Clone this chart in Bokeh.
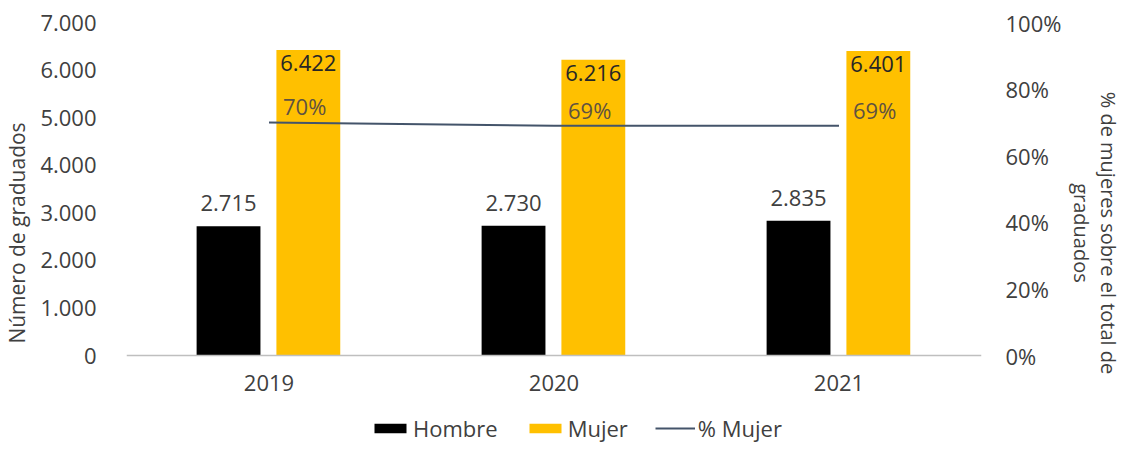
from bokeh.plotting import figure
from bokeh.models import (FactorRange, Range1d, LinearAxis, FixedTicker, Legend,
                          LegendItem, ColumnDataSource, Span)
from bokeh.transform import dodge
from bokeh.embed import file_html
from bokeh.resources import INLINE
from bokeh.core.properties import value

years = ["2019", "2020", "2021"]
hombre = [2715, 2730, 2835]
mujer = [6422, 6216, 6401]
hombre_labels = ["2.715", "2.730", "2.835"]
mujer_labels = ["6.422", "6.216", "6.401"]
pct_mujer = [0.70, 0.69, 0.69]
pct_labels = ["70%", "69%", "69%"]
left_ticks = [0, 1000, 2000, 3000, 4000, 5000, 6000, 7000]
left_tick_labels = ["0", "1.000", "2.000", "3.000", "4.000", "5.000", "6.000", "7.000"]
right_ticks = [0, 0.2, 0.4, 0.6, 0.8, 1.0]
right_tick_labels = ["0%", "20%", "40%", "60%", "80%", "100%"]

FONT = "Open Sans"
FS = "22px"
TFS = "21px"
TXT = "#404040"

# the plotting frame reaches down to the legend; value 0 sits 88px above its bottom
Y_MAX = 7000
Y_PAD = 88 / 333  # fraction of the value span that lies below zero

src = ColumnDataSource(dict(year=years, hombre=hombre, mujer=mujer,
                            hlab=hombre_labels, mlab=mujer_labels,
                            pct=pct_mujer, plab=pct_labels, zero=[0, 0, 0]))

p = figure(x_range=FactorRange(*years, range_padding=0),
           y_range=Range1d(-Y_MAX * Y_PAD, Y_MAX),
           width=1125, height=443, output_backend="svg", toolbar_location=None,
           x_axis_location=None,
           min_border_left=118, min_border_right=138, min_border_top=22,
           min_border_bottom=0)
p.outline_line_color = None
p.grid.visible = False
p.background_fill_color = "white"
p.border_fill_color = "white"

p.extra_y_ranges = {"pct": Range1d(-Y_PAD, 1)}

bh = p.vbar(x=dodge("year", -0.142, range=p.x_range), top="hombre", width=0.224,
            source=src, fill_color="#000000", line_color=None)
bm = p.vbar(x=dodge("year", 0.138, range=p.x_range), top="mujer", width=0.224,
            source=src, fill_color="#FFC000", line_color=None)
ln = p.line(x="year", y="pct", source=src, y_range_name="pct",
            line_color="#44546A", line_width=2)

# category axis baseline and labels
p.add_layout(Span(location=0, dimension="width", line_color="#BFBFBF", line_width=1.5))
p.text(x="year", y="zero", text="year", source=src, text_align="center",
       text_baseline="middle", y_offset=27,
       text_font=value(FONT), text_font_size=FS, text_color=TXT)

p.text(x=dodge("year", -0.142, range=p.x_range), y="hombre", text="hlab", source=src,
       text_align="center", text_baseline="bottom", y_offset=-15,
       text_font=value(FONT), text_font_size=FS, text_color=TXT)
p.text(x=dodge("year", 0.138, range=p.x_range), y="mujer", text="mlab", source=src,
       text_align="center", text_baseline="top", y_offset=5,
       text_font=value(FONT), text_font_size=FS, text_color="#262626")
p.text(x="year", y="pct", text="plab", source=src, y_range_name="pct",
       text_align="left", text_baseline="bottom", x_offset=14, y_offset=-1,
       text_font=value(FONT), text_font_size=FS, text_color="#5f5240")

# left axis
ya = p.yaxis[0]
ya.ticker = FixedTicker(ticks=left_ticks)
ya.major_label_overrides = {t: l for t, l in zip(left_ticks, left_tick_labels)}
ya.axis_line_color = None
ya.major_tick_line_color = None
ya.minor_tick_line_color = None
ya.major_label_standoff = 24
ya.axis_label = "Número de graduados"
ya.axis_label_standoff = 6
ya.axis_label_text_font = FONT
ya.axis_label_text_font_size = TFS
ya.axis_label_text_font_style = "normal"
ya.axis_label_text_color = TXT
ya.major_label_text_font = FONT
ya.major_label_text_font_size = FS
ya.major_label_text_color = TXT

# right axis
ra = LinearAxis(y_range_name="pct", ticker=FixedTicker(ticks=right_ticks))
ra.major_label_overrides = {t: l for t, l in zip(right_ticks, right_tick_labels)}
ra.axis_line_color = None
ra.major_tick_line_color = None
ra.minor_tick_line_color = None
ra.major_label_standoff = 18
ra.axis_label = "% de mujeres sobre el total de\ngraduados"
ra.axis_label_standoff = 4
ra.axis_label_text_font = FONT
ra.axis_label_text_font_size = "20px"
ra.axis_label_text_font_style = "normal"
ra.axis_label_text_color = TXT
ra.axis_label_text_line_height = 1.0
ra.major_label_text_font = FONT
ra.major_label_text_font_size = FS
ra.major_label_text_color = TXT
p.add_layout(ra, "right")

legend = Legend(items=[LegendItem(label="Hombre", renderers=[bh]),
                       LegendItem(label="Mujer", renderers=[bm]),
                       LegendItem(label="% Mujer", renderers=[ln])],
                orientation="horizontal", location=(244, 0),
                glyph_width=40, glyph_height=12, label_standoff=3, spacing=27,
                padding=0, margin=0, border_line_color=None,
                background_fill_alpha=0,
                label_text_font=FONT, label_text_font_size=FS,
                label_text_color=TXT)
p.add_layout(legend, "center")

open("out.html", "w").write(file_html(p, INLINE))
